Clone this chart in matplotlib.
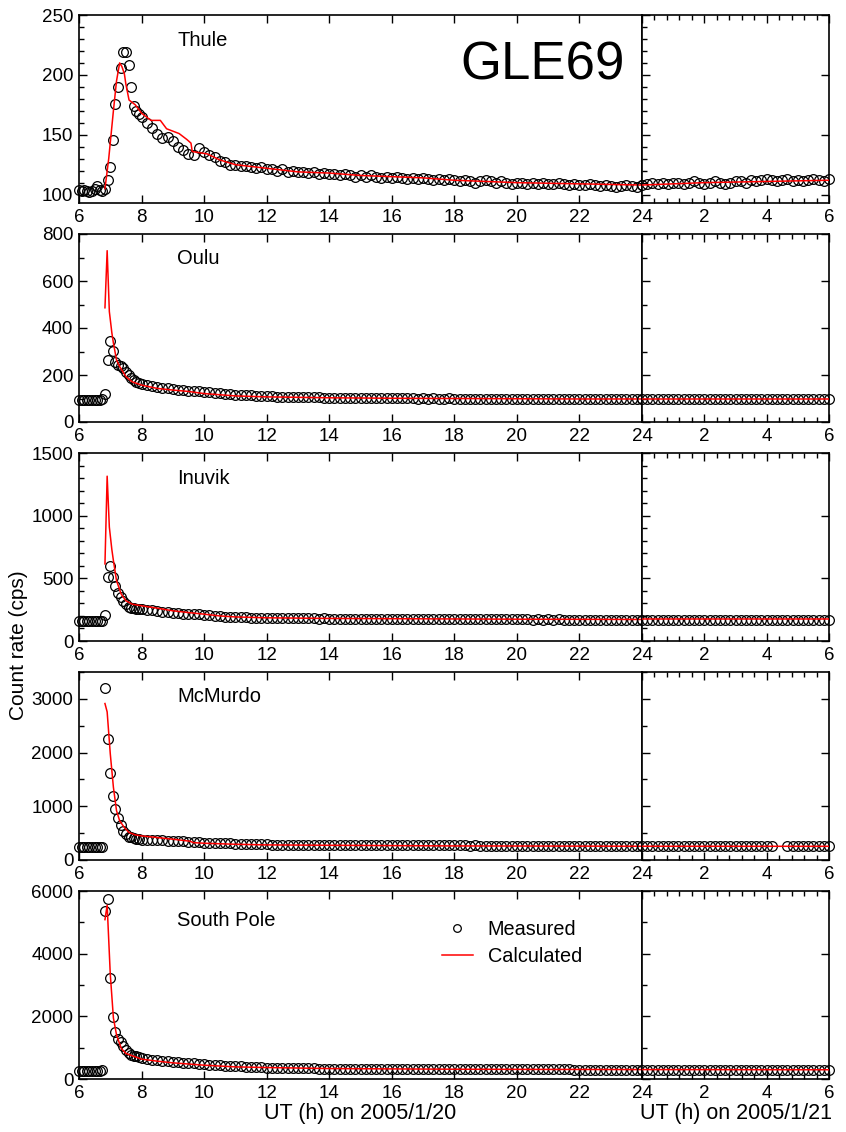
import numpy as np
import matplotlib
matplotlib.use('Agg')
import matplotlib.pyplot as plt
from matplotlib.ticker import MultipleLocator, FuncFormatter
from matplotlib.lines import Line2D

plt.rcParams['font.family'] = ['Liberation Sans', 'DejaVu Sans']

nan = np.nan

# time grid: 5-min steps 6:00-8:00, then 10-min steps 8:10 - 30:00 (= 6:00 next day)
t_meas = np.concatenate([6 + np.arange(25) * 5 / 60.0, 8 + np.arange(1, 133) * 10 / 60.0])

stations = ['Thule', 'Oulu', 'Inuvik', 'McMurdo', 'South Pole']

thule_meas = [104, 103, 104, 103, 102, 103, 105, 107, 104, 103,
              105, 112, 123, 146, 176, 190, 206, 219, 219, 208, 190, 174, 170, 167, 165,
              160, 156, 151, 147, 148, 145,
              140, 137, 134, 133, 139, 136,
              133, 131, 128, 127, 125, 125,
              124, 124, 123, 122, 123, 121,
              121, 120, 121, 119, 120, 119,
              119, 118, 119, 117, 118, 117,
              117, 116, 117, 116, 115, 116,
              115, 116, 115, 114, 115, 114,
              115, 114, 113, 114, 113, 114,
              113, 112, 113, 112, 113, 112,
              111, 112, 111, 110, 111, 112,
              111, 110, 111, 110, 109, 110,
              110, 109, 110, 109, 110, 109,
              109, 110, 109, 108, 109, 108,
              108, 109, 108, 107, 108, 107,
              106, 107, 108, 107, 106, 108,
              109, 110, 109, 110, 109, 110,
              110, 109, 110, 111, 110, 109,
              110, 111, 110, 109, 110, 111,
              111, 110, 112, 111, 112, 113,
              112, 111, 112, 113, 111, 112,
              111, 112, 113, 112, 111, 113]

oulu_meas = [94, 95, 94, 95, 94, 95, 94, 95, 94, 96,
             121, 264, 343, 304, 257, 243, 239, 229, 214, 200, 186, 179, 171, 167, 161,
             157, 153, 150, 146, 143, 140,
             138, 136, 134, 131, 130, 128,
             126, 124, 122, 120, 118, 117,
             115, 114, 113, 112, 111, 110,
             109, 108, 108, 107, 107, 106,
             106, 105, 105, 105, 104, 104,
             104, 103, 104, 103, 103, 102,
             103, 102, 102, 102, 101, 102,
             101, 101, 102, 101, 100, 101,
             100, 101, 100, 100, 101, 100,
             100, 99, 100, 100, 99, 100,
             99, 99, 100, 99, 99, 98,
             99, 98, 99, 99, 98, 99,
             98, 99, 98, 98, 99, 98,
             98, 98, 97, 98, 98, 97,
             98, 97, 98, 97, 97, 98,
             98, 97, 98, 98, 97, 98,
             98, 98, 97, 98, 98, 97,
             97, 98, 98, 97, 98, 98,
             98, 97, 98, 98, 97, 98,
             98, 98, 97, 98, 98, 98,
             97, 98, 98, 97, 98, 98]

inuvik_meas = [160, 159, 161, 160, 158, 160, 161, 159, 160, 158,
               208, 508, 601, 508, 441, 380, 348, 321, 294, 273, 267, 262, 258, 256, 254,
               250, 247, 241, 235, 229, 222,
               220, 218, 215, 214, 212, 208,
               204, 200, 197, 194, 192, 190,
               189, 188, 187, 186, 185, 184,
               184, 183, 183, 182, 181, 181,
               181, 180, 180, 179, 180, 179,
               179, 178, 178, 178, 177, 178,
               177, 177, 176, 177, 176, 176,
               176, 175, 176, 175, 175, 175,
               175, 174, 174, 175, 174, 174,
               174, 173, 174, 173, 173, 174,
               173, 172, 173, 172, 172, 173,
               172, 172, 171, 172, 171, 172,
               171, 172, 171, 171, 170, 171,
               171, 170, 171, 170, 170, 171,
               170, 170, 169, 170, 170, 169,
               170, 169, 170, 170, 169, 170,
               169, 170, 170, 169, 170, 169,
               170, 169, 169, 170, 170, 169,
               169, 170, 169, 170, 169, 170,
               170, 169, 170, 169, 170, 169,
               169, 170, 170, 169, 170, 170]

mcmurdo_meas = [250, 251, 249, 250, 251, 250, 249, 250, 251, 250,
                3194, 2258, 1616, 1185, 948, 780, 655, 543, 480, 437, 430, 418, 395, 387, 380,
                376, 372, 368, 364, 360, 356,
                352, 347, 340, 333, 328, 324,
                318, 315, 312, 310, 308, 306,
                305, 303, 300, 297, 294, 292,
                288, 285, 283, 282, 281, 280,
                279, 279, 278, 277, 277, 276,
                276, 275, 276, 275, 274, 275,
                274, 274, 273, 274, 273, 273,
                273, 272, 273, 272, 272, 272,
                271, 272, 271, 271, 270, 271,
                270, 270, 269, 270, 269, 269,
                269, 268, 269, 268, 268, 268,
                268, 267, 267, 268, 267, 267,
                266, 267, 266, 266, 265, 266,
                265, 266, 265, 265, 264, 265,
                264, 265, 264, 263, 264, 264,
                262, 261, 262, 261, 260, 261,
                260, 261, 260, 259, 260, 260,
                259, 260, 259, 259, 258, 259,
                258, 259, 258, 258, 257, 258,
                257, nan, nan, 257, 256, 257,
                256, 257, 256, 256, 255, 256]

southpole_meas = [258, 257, 259, 258, 257, 258, 259, 258, 257, 301,
                  5355, 5742, 3215, 1989, 1495, 1280, 1172, 1065, 925, 817, 763, 742, 742, 710, 656,
                  638, 618, 598, 580, 565, 548,
                  535, 525, 512, 500, 488, 475,
                  460, 448, 440, 428, 418, 408,
                  400, 392, 385, 378, 372, 366,
                  360, 356, 352, 349, 346, 343,
                  341, 339, 337, 335, 334, 332,
                  331, 330, 329, 328, 327, 326,
                  325, 324, 324, 323, 322, 322,
                  321, 320, 320, 319, 318, 318,
                  317, 317, 316, 316, 315, 315,
                  314, 314, 313, 313, 312, 312,
                  311, 311, 310, 310, 309, 309,
                  308, 308, 307, 307, 306, 306,
                  305, 305, 304, 304, 303, 303,
                  302, 302, 301, 301, 300, 300,
                  299, 299, 298, 298, 297, 297,
                  296, 296, 295, 295, 294, 294,
                  294, 293, 293, 293, 292, 292,
                  292, 291, 291, 291, 290, 290,
                  290, 290, 289, 289, 289, 288,
                  288, 288, 288, 287, 287, 287,
                  287, 286, 286, 286, 285, 285]

# calculated count rates
thule_calc_t = [6.83, 6.95, 7.1, 7.2, 7.3, 7.37, 7.45, 7.5, 7.6, 7.8, 8.0, 8.3, 8.6, 8.8, 9.0, 9.2,
                9.45, 9.58, 9.62, 10.1, 10.5, 11, 12, 13, 14, 15, 16, 17, 18, 20, 22, 24, 26, 28, 30]
thule_calc = [105, 130, 170, 195, 210, 207, 201, 192, 179, 175, 168, 162, 162, 155, 153, 151,
              146, 143, 136, 134, 129, 125, 122, 119, 118, 116, 115, 114, 112, 110, 109, 108, 110, 111, 112]

oulu_calc_t = [6.83, 6.9, 6.97, 7.05, 7.1, 7.2, 7.3, 7.5, 7.7, 8.0, 8.5, 9.0, 9.5, 10, 10.5, 11,
               12, 13, 14, 16, 18, 20, 22, 24, 27, 30]
oulu_calc = [486, 729, 470, 380, 336, 264, 236, 193, 171, 157, 143, 136, 130, 121, 116, 111,
             107, 105, 103, 101, 100, 99, 98, 98, 98, 98]

inuvik_calc_t = [6.83, 6.9, 6.97, 7.05, 7.1, 7.2, 7.35, 7.5, 7.7, 8.0, 8.5, 9.0, 9.5, 10, 10.5, 11,
                 12, 14, 16, 18, 20, 24, 27, 30]
inuvik_calc = [615, 1315, 909, 730, 642, 481, 374, 321, 294, 281, 262, 241, 227, 214, 200, 192,
               185, 180, 178, 176, 174, 172, 172, 172]

mcmurdo_calc_t = [6.83, 6.9, 7.0, 7.1, 7.2, 7.3, 7.45, 7.6, 7.8, 8.0, 8.5, 9.0, 9.55, 9.65, 10,
                  11, 12, 14, 18, 24, 30]
mcmurdo_calc = [2913, 2757, 1978, 1354, 917, 730, 605, 512, 468, 449, 418, 387, 350, 324, 312,
                293, 281, 274, 262, 256, 255]

southpole_calc_t = [6.83, 6.9, 7.0, 7.1, 7.2, 7.35, 7.5, 7.7, 8.0, 8.5, 9, 10, 11, 12, 14, 18, 24, 30]
southpole_calc = [5086, 5548, 3344, 1946, 1409, 978, 817, 742, 634, 570, 516, 441, 387, 366,
                  333, 312, 301, 295]

meas_all = [thule_meas, oulu_meas, inuvik_meas, mcmurdo_meas, southpole_meas]
calc_t_all = [thule_calc_t, oulu_calc_t, inuvik_calc_t, mcmurdo_calc_t, southpole_calc_t]
calc_all = [thule_calc, oulu_calc, inuvik_calc, mcmurdo_calc, southpole_calc]

ylims = [(93, 250), (0, 800), (0, 1500), (0, 3500), (0, 6000)]
ymajor = [50, 200, 500, 1000, 2000]
yminor = [10, 100, 100, 500, 1000]

W, H = 846.0, 1132.0
tops = [15, 234, 453, 672, 891]
ph = 188
fs = 13.5

fig = plt.figure(figsize=(8.46, 11.32), dpi=100)

for i in range(5):
    y0 = 1 - (tops[i] + ph) / H
    axL = fig.add_axes([79 / W, y0, 563 / W, ph / H])
    axR = fig.add_axes([642 / W, y0, 187 / W, ph / H])

    tm = np.array(t_meas)
    ym = np.array(meas_all[i], dtype=float)
    tc = np.array(calc_t_all[i])
    yc = np.array(calc_all[i])

    mL = tm <= 24
    mR = tm >= 24
    cL = tc <= 24
    cR = tc >= 24

    for ax, mm, cc in [(axL, mL, cL), (axR, mR, cR)]:
        ax.plot(tm[mm], ym[mm], ls='none', marker='o', ms=7, mfc='none', mec='k', mew=0.9,
                clip_on=False, zorder=3)
        ax.plot(tc[cc], yc[cc], color='red', lw=1.1, zorder=4)
        ax.set_ylim(*ylims[i])
        ax.yaxis.set_major_locator(MultipleLocator(ymajor[i]))
        ax.yaxis.set_minor_locator(MultipleLocator(yminor[i]))
        for s in ax.spines.values():
            s.set_linewidth(1.2)
        ax.tick_params(which='both', direction='in', top=True, labelsize=fs, width=1.0)
        ax.tick_params(which='major', length=6, pad=4)
        ax.tick_params(which='minor', length=3.5)

    axL.set_xlim(6, 24)
    axL.xaxis.set_major_locator(MultipleLocator(2))
    axL.tick_params(axis='y', right=False)

    axR.set_xlim(24, 30)
    axR.xaxis.set_major_locator(MultipleLocator(2))
    axR.xaxis.set_minor_locator(MultipleLocator(0.4))
    axR.xaxis.set_major_formatter(FuncFormatter(lambda v, p: '' if abs(v - 24) < 1e-6 else '%d' % round(v - 24)))
    axR.tick_params(axis='y', left=True, right=True, labelleft=False)

    axL.text((177 - 79) / 563.0, 1 - ((25 if i < 4 else 29)) / ph, stations[i],
             transform=axL.transAxes, fontsize=14.5, va='center', ha='left')

    if i == 4:
        axL.set_xlabel('UT (h) on 2005/1/20', fontsize=15.5, labelpad=1)
        axR.set_xlabel('UT (h) on 2005/1/21', fontsize=15.5, labelpad=1)
        handles = [Line2D([], [], ls='none', marker='o', ms=5.5, mfc='none', mec='k', mew=0.9),
                   Line2D([], [], color='red', lw=1.1)]
        axL.legend(handles, ['Measured', 'Calculated'], loc='upper left',
                   bbox_to_anchor=((442 - 79) / 563.0, 1 - (920 - 891) / float(ph)),
                   frameon=False, fontsize=14.3, handlelength=1.55, handletextpad=0.75,
                   borderpad=0, borderaxespad=0, labelspacing=0.4)

fig.text(543 / W, 1 - 65 / H, 'GLE69', fontsize=38, ha='center', va='center')
fig.text(18 / W, 1 - 645 / H, 'Count rate (cps)', fontsize=15, rotation=90, ha='center', va='center')

fig.savefig('out.png', dpi=100)
